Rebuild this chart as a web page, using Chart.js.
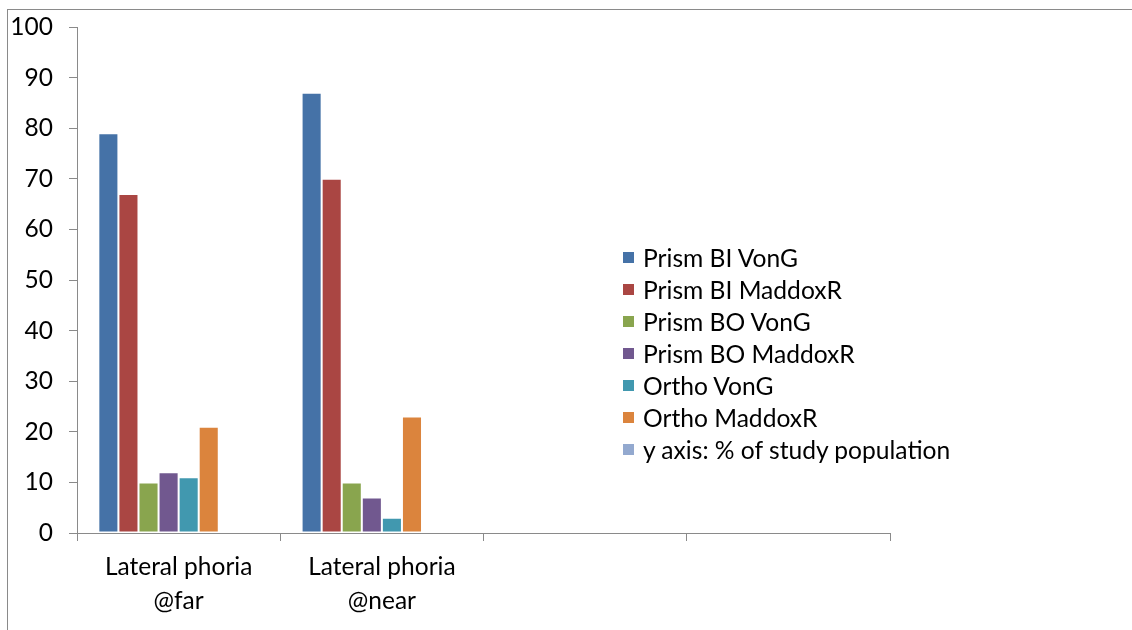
<!DOCTYPE html>
<html>
<head>
<meta charset="utf-8">
<script src="https://cdn.jsdelivr.net/npm/chart.js@4.4.0/dist/chart.umd.min.js"></script>
<style>
body { margin: 0; width: 1132px; height: 630px; overflow: hidden; background: #fff; font-family: Lato, sans-serif; }
.frame { position: absolute; left: 7px; top: 9px; width: 1300px; height: 800px; border: 1px solid #8a8a8a; }
.wrap { position: absolute; left: 0; top: 0; width: 1132px; height: 630px; }
.legend { position: absolute; left: 623px; top: 241px; list-style: none; margin: 0; padding: 0; }
.legend li { height: 32px; font-size: 24.6px; color: #000; display: flex; align-items: center; white-space: nowrap; }
.legend span { width: 11px; height: 11px; margin-right: 9px; display: inline-block; }
</style>
</head>
<body>
<div class="frame"></div>
<div class="wrap"><canvas id="chart" width="1132" height="630"></canvas></div>
<ul class="legend" id="legend"></ul>
<script>
const categories = [['Lateral phoria', '@far'], ['Lateral phoria', '@near'], '', ''];
const seriesNames = ['Prism BI VonG', 'Prism BI MaddoxR', 'Prism BO VonG', 'Prism BO MaddoxR', 'Ortho VonG', 'Ortho MaddoxR', 'y axis: % of study population'];
const prismBIVonG = [79, 87, null, null];
const prismBIMaddox = [67, 70, null, null];
const prismBOVonG = [10, 10, null, null];
const prismBOMaddox = [12, 7, null, null];
const orthoVonG = [11, 3, null, null];
const orthoMaddox = [21, 23, null, null];
const yAxisNote = [null, null, null, null];
const blank = [null, null, null, null];
const yTicks = [0, 10, 20, 30, 40, 50, 60, 70, 80, 90, 100];

const colors = ['#4572A7', '#AA4643', '#89A54E', '#71588F', '#4198AF', '#DB843D', '#93A9CF', '#ffffff'];
const allData = [prismBIVonG, prismBIMaddox, prismBOVonG, prismBOMaddox, orthoVonG, orthoMaddox, yAxisNote, blank];
const FONT = { family: 'Lato, sans-serif', size: 24.5, lineHeight: 1.35 };
const AXIS = '#8a8a8a';

const datasets = allData.map((d, i) => ({
    label: seriesNames[i] || '',
    data: d,
    backgroundColor: colors[i],
    borderColor: '#ffffff',
    borderWidth: 1,
    borderSkipped: false
}));

const chart = new Chart(document.getElementById('chart'), {
    type: 'bar',
    data: { labels: categories, datasets: datasets },
    options: {
        responsive: false,
        animation: false,
        events: [],
        layout: { padding: { top: 27, right: 242, left: 0, bottom: 0 } },
        datasets: { bar: { categoryPercentage: 0.79, barPercentage: 1 } },
        plugins: { legend: { display: false }, tooltip: { enabled: false } },
        scales: {
            x: {
                grid: { offset: true, drawOnChartArea: false, tickLength: 8, color: AXIS },
                border: { color: AXIS },
                ticks: { color: '#000', font: FONT, padding: 10, maxRotation: 0 },
                afterFit: s => { s.height = 97; s.paddingLeft = 0; s.paddingRight = 0; }
            },
            y: {
                min: 0,
                max: 100,
                afterBuildTicks: s => { s.ticks = yTicks.map(v => ({ value: v })); },
                grid: { drawOnChartArea: false, tickLength: 8, color: AXIS },
                border: { color: AXIS },
                ticks: { color: '#000', font: FONT, padding: 16 },
                afterFit: s => { s.width = 77; s.paddingTop = 0; s.paddingBottom = 0; }
            }
        }
    }
});

// legend in the plot area, like the original
const legend = document.getElementById('legend');
chart.data.datasets.forEach(ds => {
    if (!ds.label) return;
    const li = document.createElement('li');
    li.innerHTML = '<span style="background:' + ds.backgroundColor + '"></span>' + ds.label;
    legend.appendChild(li);
});
</script>
</body>
</html>
